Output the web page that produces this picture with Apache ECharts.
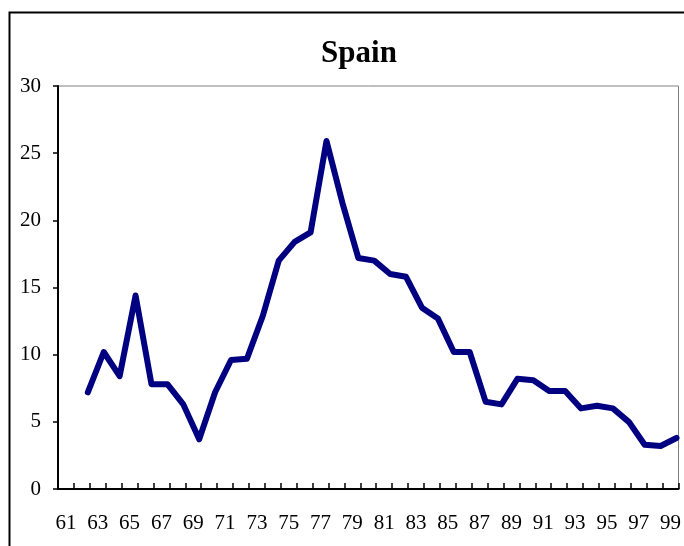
<!DOCTYPE html>
<html>
<head>
<meta charset="utf-8">
<script src="https://cdn.jsdelivr.net/npm/echarts@6/dist/echarts.min.js"></script>
<style>
html,body{margin:0;padding:0;background:#fff;}
#chart{width:684px;height:546px;}
</style>
</head>
<body>
<div id="chart"></div>
<script>
var titleText = 'Spain';
var categoryLabels = ['61','62','63','64','65','66','67','68','69','70','71','72','73','74','75','76','77','78','79','80','81','82','83','84','85','86','87','88','89','90','91','92','93','94','95','96','97','98','99'];
var years = [62,63,64,65,66,67,68,69,70,71,72,73,74,75,76,77,78,79,80,81,82,83,84,85,86,87,88,89,90,91,92,93,94,95,96,97,98,99];
var values = [7.2,10.2,8.4,14.4,7.8,7.8,6.3,3.7,7.2,9.6,9.7,12.9,17.0,18.4,19.1,25.9,21.3,17.2,17.0,16.0,15.8,13.5,12.7,10.2,10.2,6.5,6.3,8.2,8.1,7.3,7.3,6.0,6.2,6.0,5.0,3.3,3.2,3.8];

var seriesData = years.map(function(y, i){ return [y, values[i]]; });
var serif = '"Liberation Serif","Times New Roman",serif';

var chart = echarts.init(document.getElementById('chart'), null, {renderer:'canvas'});
chart.setOption({
  animation: false,
  backgroundColor: '#fff',
  title: {
    text: titleText,
    left: 354, textAlign: 'center', top: 33,
    textStyle: {fontFamily: serif, fontWeight: 'bold', fontSize: 31, color: '#000'}
  },
  graphic: [{
    type: 'rect', left: 7, top: 10, z: 100, silent: true,
    shape: {x: 0, y: 0, width: 720, height: 600},
    style: {fill: 'none', stroke: '#000', lineWidth: 2}
  }],
  grid: {
    left: 58, right: 2, top: 86, bottom: 57,
    show: true, borderColor: '#808080', borderWidth: 1, backgroundColor: '#fff'
  },
  xAxis: [{
    type: 'category',
    data: categoryLabels,
    boundaryGap: true,
    axisLine: {show: true, lineStyle: {color: '#000', width: 2}},
    axisTick: {show: true, inside: true, length: 6, interval: 0, lineStyle: {color: '#000', width: 1.5}},
    axisLabel: {interval: 1, margin: 24, fontFamily: serif, fontSize: 21, color: '#000'},
    splitLine: {show: false}
  }, {
    type: 'value',
    min: 60.125, max: 99.125,
    show: false,
    splitLine: {show: false}
  }],
  yAxis: {
    type: 'value',
    min: 0, max: 30, interval: 5,
    axisLine: {show: true, lineStyle: {color: '#000', width: 2}},
    axisTick: {show: true, inside: false, length: 5, lineStyle: {color: '#000', width: 1.5}},
    axisLabel: {margin: 17, fontFamily: serif, fontSize: 21, color: '#000'},
    splitLine: {show: false}
  },
  series: [{
    type: 'line',
    xAxisIndex: 1,
    data: seriesData,
    symbol: 'none',
    lineStyle: {color: '#000080', width: 6, join: 'round', cap: 'round'},
    z: 3
  }]
});
</script>
</body>
</html>
